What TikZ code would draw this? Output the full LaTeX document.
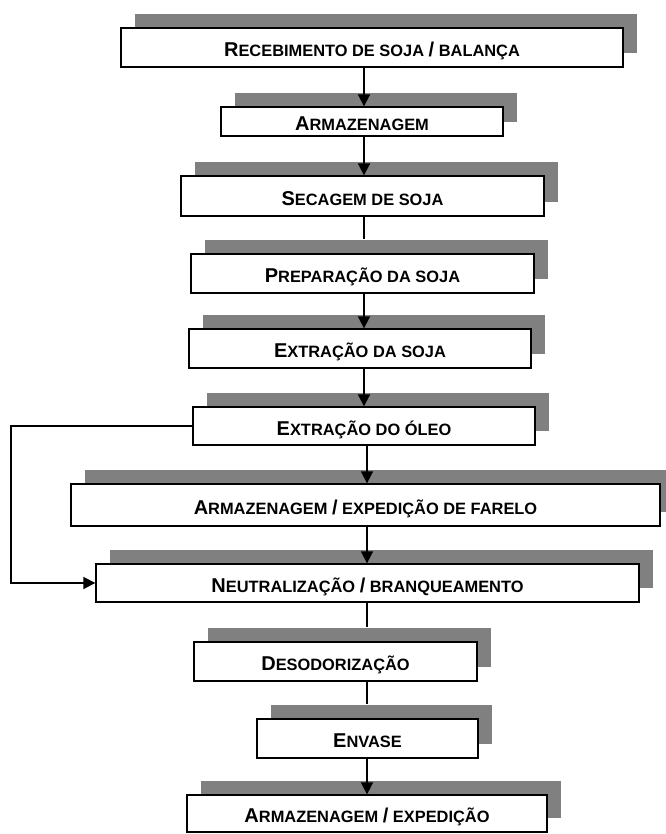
\documentclass[tikz,border=0pt]{standalone}
\usepackage{fontspec}
\setmainfont{Liberation Sans}
\usetikzlibrary{arrows.meta,shadows}
\newcommand{\capl}[1]{{\fontsize{15}{17}\selectfont #1}}
\tikzset{
    step_box/.style = {draw=black, fill=white, line width=1pt, inner sep=0pt, text centered,
        text height=14pt, text depth=0pt,
        font=\fontsize{12.3}{14}\selectfont\bfseries,
        general shadow={fill=gray, shadow xshift=10.5pt, shadow yshift=10.5pt}},
    box_size/.style 2 args = {minimum width=#1*0.75pt, minimum height=#2*0.75pt},
    link/.style = {line width=1.3pt}
}
\begin{document}
\begin{tikzpicture}[x=0.75pt, y=-0.75pt, ->, >={Triangle[width=9pt,length=9pt]}]
    \useasboundingbox (0,0) rectangle (666,834);
    \node [step_box, box_size={502}{39}] (rec) at (372,47.5) {\capl{R}ECEBIMENTO DE SOJA \capl{/} BALANÇA};
    \node [step_box, box_size={282}{29}] (arm) at (362,121.5) {\capl{A}RMAZENAGEM};
    \node [step_box, box_size={363}{40}] (sec) at (362.5,196) {\capl{S}ECAGEM DE SOJA};
    \node [step_box, box_size={343}{39}] (prep) at (362.5,273.5) {\capl{P}REPARAÇÃO DA SOJA};
    \node [step_box, box_size={342}{39}] (extsoja) at (360,348.5) {\capl{E}XTRAÇÃO DA SOJA};
    \node [step_box, box_size={342}{38}] (extoleo) at (364,426) {\capl{E}XTRAÇÃO DO ÓLEO};
    \node [step_box, box_size={589}{42}] (farelo) at (365.5,505) {\capl{A}RMAZENAGEM \capl{/} EXPEDIÇÃO DE FARELO};
    \node [step_box, box_size={543}{38}] (neutr) at (367.5,583) {\capl{N}EUTRALIZAÇÃO \capl{/} BRANQUEAMENTO};
    \node [step_box, box_size={283}{39}] (deso) at (335.5,661.5) {\capl{D}ESODORIZAÇÃO};
    \node [step_box, box_size={221}{39}] (envase) at (367.5,738.5) {\capl{E}NVASE};
    \node [step_box, box_size={360}{37}] (exped) at (367,813.5) {\capl{A}RMAZENAGEM \capl{/} EXPEDIÇÃO};
    % main line
    \coordinate (upper) at (364,0);
    \coordinate (lower) at (367,0);
    \draw [link] (rec.south -| upper) -- (arm.north -| upper);
    \draw [link] (arm.south -| upper) -- (sec.north -| upper);
    \draw [link, -] (sec.south -| upper) -- ([yshift=10.5pt]prep.north -| upper);
    \draw [link] (prep.south -| upper) -- (extsoja.north -| upper);
    \draw [link] (extsoja.south -| upper) -- (extoleo.north -| upper);
    \draw [link] (extoleo.south -| lower) -- (farelo.north -| lower);
    \draw [link] (farelo.south -| lower) -- (neutr.north -| lower);
    \draw [link, -] (neutr.south -| lower) -- ([yshift=10.5pt]deso.north -| lower);
    \draw [link, -] (deso.south -| lower) -- ([yshift=10.5pt]envase.north -| lower);
    \draw [link] (envase.south -| lower) -- (exped.north -| lower);
    % return to neutralizacao
    \coordinate (back) at (11,0);
    \draw [link] (extoleo.west) -- (extoleo.west -| back) -- (neutr.west -| back) -- (neutr.west);
\end{tikzpicture}
\end{document}
